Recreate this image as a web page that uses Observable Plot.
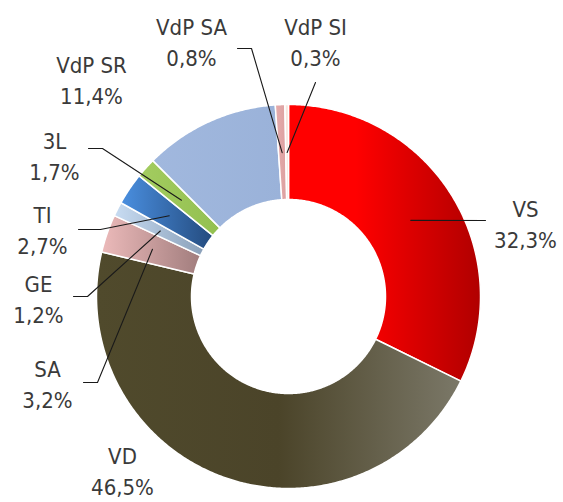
<!DOCTYPE html>
<html><head><meta charset="utf-8">
<script src="https://cdn.jsdelivr.net/npm/d3@7"></script>
<script src="https://cdn.jsdelivr.net/npm/@observablehq/plot@0.6"></script>
<style>body{margin:0;background:#fff}</style>
</head><body><div id="chart"></div>
<script>
// ---- data ----
const categories = ["VS", "VD", "SA", "GE", "TI", "3L", "VdP SR", "VdP SA", "VdP SI"];
const shares = [32.3, 46.5, 3.2, 1.2, 2.7, 1.7, 11.4, 0.8, 0.3];

// ---- styles (gradient stops per slice, left -> right) ----
const sliceGradients = [
  [[0, "#ff0000"], [0.35, "#ff0000"], [1, "#b00000"]],
  [[0, "#504a2c"], [0.5, "#4b4429"], [1, "#7b7868"]],
  [[0, "#ecbaba"], [1, "#a17d7d"]],
  [[0, "#c8dcf2"], [1, "#8aa0b9"]],
  [[0, "#4a8fe0"], [1, "#244b7e"]],
  [[0, "#a3cc60"], [1, "#93c050"]],
  [[0, "#a1b8de"], [1, "#9ab2d9"]],
  [[0, "#e6acac"], [1, "#dca0a0"]],
  [[0, "#fbece4"], [1, "#f6e0d6"]]
];

// ---- layout (pixels) ----
const W = 563, H = 502;
const cx = 288, cy = 296, rOuter = 192, rInner = 97, rAnchor = 144;
// label centre and leader-line path (from slice anchor to these points)
const labelLayout = {
  "VS":     {x: 525, y: 222, path: [[485, 220]]},
  "VD":     {x: 122, y: 469, path: []},
  "SA":     {x: 47,  y: 382, path: [[97, 382], [83, 382]]},
  "GE":     {x: 38,  y: 297, path: [[87, 296], [73, 296]]},
  "TI":     {x: 42,  y: 228, path: [[100, 229], [78, 229]]},
  "3L":     {x: 54,  y: 154, path: [[102, 148], [88, 148]]},
  "VdP SR": {x: 91,  y: 78,  path: []},
  "VdP SA": {x: 191, y: 40,  path: [[251, 48], [237, 48]]},
  "VdP SI": {x: 315, y: 40,  path: [[315, 82]]}
};

const fmt = v => v.toFixed(1).replace(".", ",") + "%";
const total = d3.sum(shares);

// slice angles (clockwise from 12 o'clock)
let acc = 0;
const slices = categories.map((c, i) => {
  const a0 = acc / total * 2 * Math.PI;
  acc += shares[i];
  const a1 = acc / total * 2 * Math.PI;
  return {c, i, a0, a1, mid: (a0 + a1) / 2};
});
const pt = (r, a) => [cx + r * Math.sin(a), cy - r * Math.cos(a)];

function slicePolygon(s) {
  const n = Math.max(2, Math.ceil((s.a1 - s.a0) / (Math.PI / 360)));
  const pts = [];
  for (let k = 0; k <= n; k++) pts.push(pt(rOuter, s.a0 + (s.a1 - s.a0) * k / n));
  for (let k = n; k >= 0; k--) pts.push(pt(rInner, s.a0 + (s.a1 - s.a0) * k / n));
  return pts.map(([x, y]) => ({x, y}));
}

const sliceMarks = slices.map(s =>
  Plot.line(slicePolygon(s), {
    x: "x", y: "y", curve: "linear-closed",
    fill: `url(#grad${s.i})`, stroke: "white", strokeWidth: 1.5
  })
);

const leaderPts = [];
slices.forEach(s => {
  const L = labelLayout[s.c];
  if (!L.path.length) return;
  const [ax, ay] = pt(rAnchor, s.mid);
  leaderPts.push({k: s.c, x: ax, y: ay});
  L.path.forEach(([x, y]) => leaderPts.push({k: s.c, x, y}));
});

const labels = slices.map(s => ({
  x: labelLayout[s.c].x, y: labelLayout[s.c].y,
  text: s.c + "\n" + fmt(shares[s.i])
}));

const plot = Plot.plot({
  width: W, height: H, margin: 0,
  x: {domain: [0, W], range: [0, W], axis: null},
  y: {domain: [0, H], range: [0, H], axis: null},
  style: {background: "#fff"},
  marks: [
    ...sliceMarks,
    Plot.line(leaderPts, {x: "x", y: "y", z: "k", stroke: "#1a1a1a", strokeWidth: 1.1}),
    Plot.text(labels, {
      x: "x", y: "y", text: "text",
      fontSize: 22, lineHeight: 1.43, fill: "#3a3a3a",
      fontFamily: "'Liberation Sans Narrow', 'DejaVu Sans Condensed', sans-serif"
    })
  ]
});

// gradient definitions
const svg = d3.select(plot);
const defs = svg.insert("defs", ":first-child");
sliceGradients.forEach((stops, i) => {
  const g = defs.append("linearGradient").attr("id", `grad${i}`)
    .attr("x1", 0).attr("y1", 0).attr("x2", 1).attr("y2", 0);
  stops.forEach(([o, c]) => g.append("stop").attr("offset", o).attr("stop-color", c));
});

document.getElementById("chart").appendChild(plot);
</script>
</body></html>
